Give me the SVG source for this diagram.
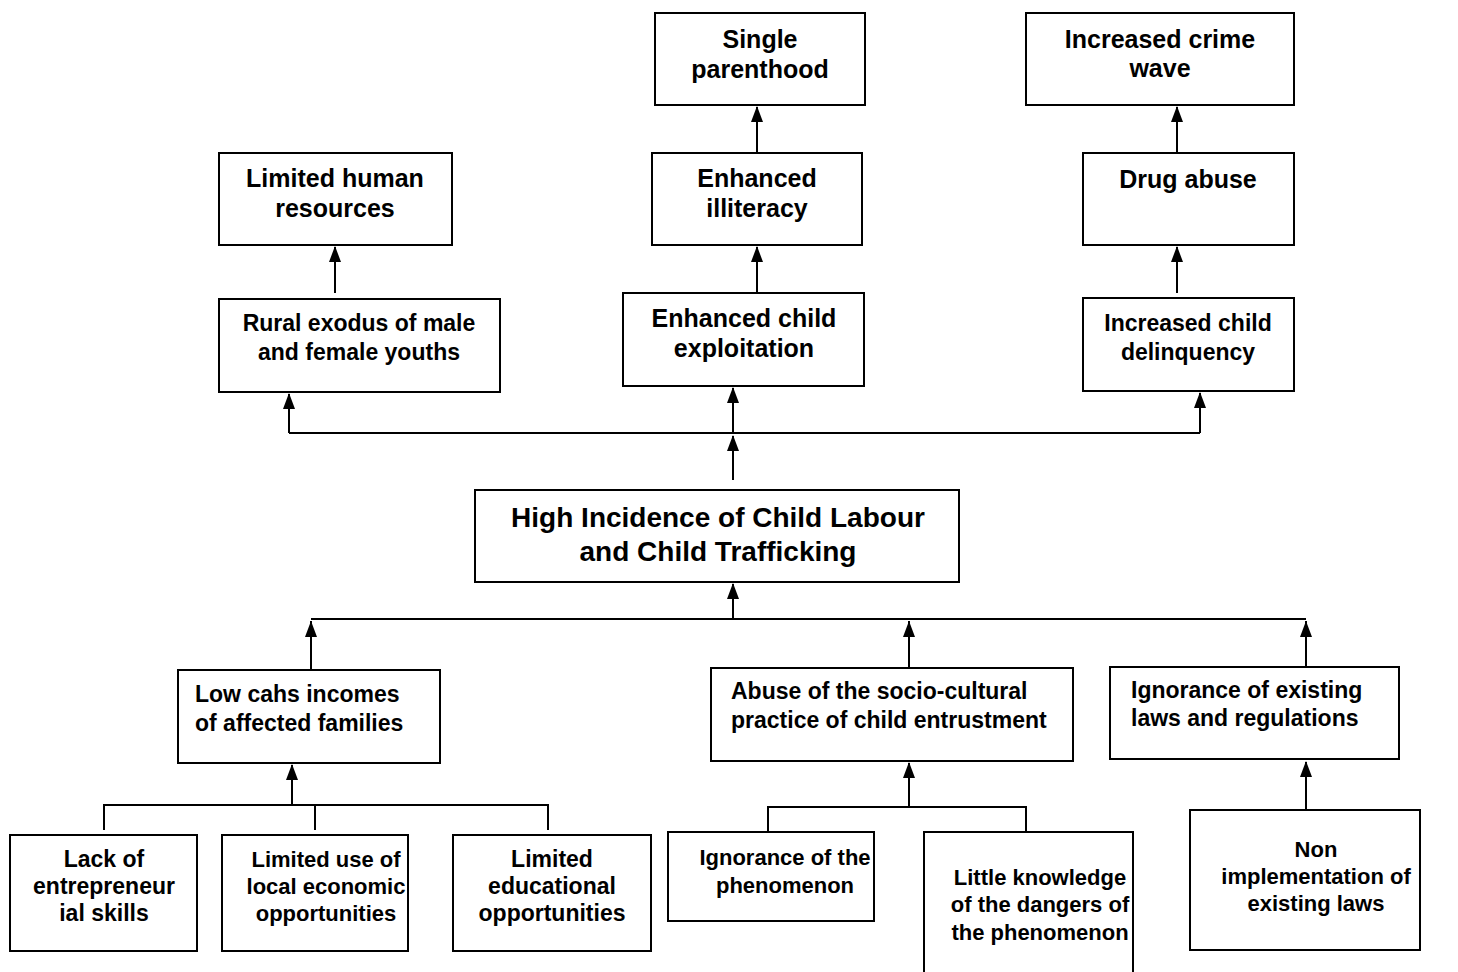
<svg xmlns="http://www.w3.org/2000/svg" width="1458" height="972" viewBox="0 0 1458 972">
<style>
.box{fill:#fff;stroke:#000;stroke-width:2}
text{font-family:"Liberation Sans",Arial,sans-serif;font-weight:bold;fill:#000}
.t1{font-size:25px;text-anchor:middle}
.t2{font-size:23px;text-anchor:middle}
.t3{font-size:23px}
.tc{font-size:28px;text-anchor:middle}
.ln{fill:none;stroke:#000;stroke-width:2}
</style>
<defs>
<path id="ah" d="M0 0 l-6 16 h12 Z" fill="#000"/>
</defs>
<rect width="1458" height="972" fill="#fff"/>
<g id="connectors">
<path class="ln" d="M335 293 V247"/>
<path class="ln" d="M757 293 V247"/>
<path class="ln" d="M757 153 V107"/>
<path class="ln" d="M1177 293 V247"/>
<path class="ln" d="M1177 153 V107"/>
<path class="ln" d="M289 433 H1200"/>
<path class="ln" d="M289 433 V394"/>
<path class="ln" d="M733 433 V388"/>
<path class="ln" d="M1200 433 V393"/>
<path class="ln" d="M733 480 V436"/>
<path class="ln" d="M733 619 V584"/>
<path class="ln" d="M311 619 H1306"/>
<path class="ln" d="M311 670 V621"/>
<path class="ln" d="M909 668 V621"/>
<path class="ln" d="M1306 667 V621"/>
<path class="ln" d="M292 805 V765"/>
<path class="ln" d="M104 830 V805 H548 V830"/>
<path class="ln" d="M315 805 V830"/>
<path class="ln" d="M909 807 V763"/>
<path class="ln" d="M768 831 V807 H1026 V831"/>
<path class="ln" d="M1306 810 V762"/>
<use href="#ah" x="335" y="246"/>
<use href="#ah" x="757" y="246"/>
<use href="#ah" x="757" y="106"/>
<use href="#ah" x="1177" y="246"/>
<use href="#ah" x="1177" y="106"/>
<use href="#ah" x="289" y="393"/>
<use href="#ah" x="733" y="387"/>
<use href="#ah" x="1200" y="392"/>
<use href="#ah" x="733" y="435"/>
<use href="#ah" x="733" y="583"/>
<use href="#ah" x="311" y="621"/>
<use href="#ah" x="909" y="621"/>
<use href="#ah" x="1306" y="621"/>
<use href="#ah" x="292" y="764"/>
<use href="#ah" x="909" y="762"/>
<use href="#ah" x="1306" y="761"/>
</g>
<g id="single-parenthood"><rect class="box" x="655" y="13" width="210" height="92"/><text class="t1"><tspan x="760" y="48">Single</tspan><tspan x="760" y="78">parenthood</tspan></text></g>
<g id="crime-wave"><rect class="box" x="1026" y="13" width="268" height="92"/><text class="t1"><tspan x="1160" y="48">Increased crime</tspan><tspan x="1160" y="77">wave</tspan></text></g>
<g id="limited-human"><rect class="box" x="219" y="153" width="233" height="92"/><text class="t1"><tspan x="335" y="187">Limited human</tspan><tspan x="335" y="217">resources</tspan></text></g>
<g id="illiteracy"><rect class="box" x="652" y="153" width="210" height="92"/><text class="t1"><tspan x="757" y="187">Enhanced</tspan><tspan x="757" y="217">illiteracy</tspan></text></g>
<g id="drug-abuse"><rect class="box" x="1083" y="153" width="211" height="92"/><text class="t1"><tspan x="1188" y="188">Drug abuse</tspan></text></g>
<g id="rural-exodus"><rect class="box" x="219" y="299" width="281" height="93"/><text class="t2"><tspan x="359" y="331">Rural exodus of male</tspan><tspan x="359" y="360">and female youths</tspan></text></g>
<g id="child-exploitation"><rect class="box" x="623" y="293" width="241" height="93"/><text class="t1"><tspan x="744" y="327">Enhanced child</tspan><tspan x="744" y="357">exploitation</tspan></text></g>
<g id="child-delinquency"><rect class="box" x="1083" y="298" width="211" height="93"/><text class="t2"><tspan x="1188" y="331">Increased child</tspan><tspan x="1188" y="360">delinquency</tspan></text></g>
<g id="central"><rect class="box" x="475" y="490" width="484" height="92"/><text class="tc"><tspan x="718" y="527">High Incidence of Child Labour</tspan><tspan x="718" y="561">and Child Trafficking</tspan></text></g>
<g id="low-incomes"><rect class="box" x="178" y="670" width="262" height="93"/><text class="t3"><tspan x="195" y="702">Low cahs incomes</tspan><tspan x="195" y="731">of affected families</tspan></text></g>
<g id="abuse-entrustment"><rect class="box" x="711" y="668" width="362" height="93"/><text class="t3"><tspan x="731" y="699">Abuse of the socio-cultural</tspan><tspan x="731" y="728">practice of child entrustment</tspan></text></g>
<g id="ignorance-laws"><rect class="box" x="1110" y="667" width="289" height="92"/><text class="t3"><tspan x="1131" y="698">Ignorance of existing</tspan><tspan x="1131" y="726">laws and regulations</tspan></text></g>
<g id="entrepreneurial"><rect class="box" x="10" y="835" width="187" height="116"/><text class="t2"><tspan x="104" y="867">Lack of</tspan><tspan x="104" y="894">entrepreneur</tspan><tspan x="104" y="921">ial skills</tspan></text></g>
<g id="local-economic"><rect class="box" x="222" y="835" width="186" height="116"/><text class="t2" style="font-size:22px"><tspan x="326" y="867">Limited use of</tspan><tspan x="326" y="894">local economic</tspan><tspan x="326" y="921">opportunities</tspan></text></g>
<g id="educational"><rect class="box" x="453" y="835" width="198" height="116"/><text class="t2"><tspan x="552" y="867">Limited</tspan><tspan x="552" y="894">educational</tspan><tspan x="552" y="921">opportunities</tspan></text></g>
<g id="ignorance-phenomenon"><rect class="box" x="668" y="832" width="206" height="89"/><text class="t2" style="font-size:22px"><tspan x="785" y="865">Ignorance of the</tspan><tspan x="785" y="893">phenomenon</tspan></text></g>
<g id="little-knowledge"><rect class="box" x="924" y="832" width="209" height="150"/><text class="t2" style="font-size:22px"><tspan x="1040" y="885">Little knowledge</tspan><tspan x="1040" y="912">of the dangers of</tspan><tspan x="1040" y="940">the phenomenon</tspan></text></g>
<g id="non-implementation"><rect class="box" x="1190" y="810" width="230" height="140"/><text class="t2" style="font-size:22px"><tspan x="1316" y="857">Non</tspan><tspan x="1316" y="884">implementation of</tspan><tspan x="1316" y="911">existing laws</tspan></text></g>
</svg>
